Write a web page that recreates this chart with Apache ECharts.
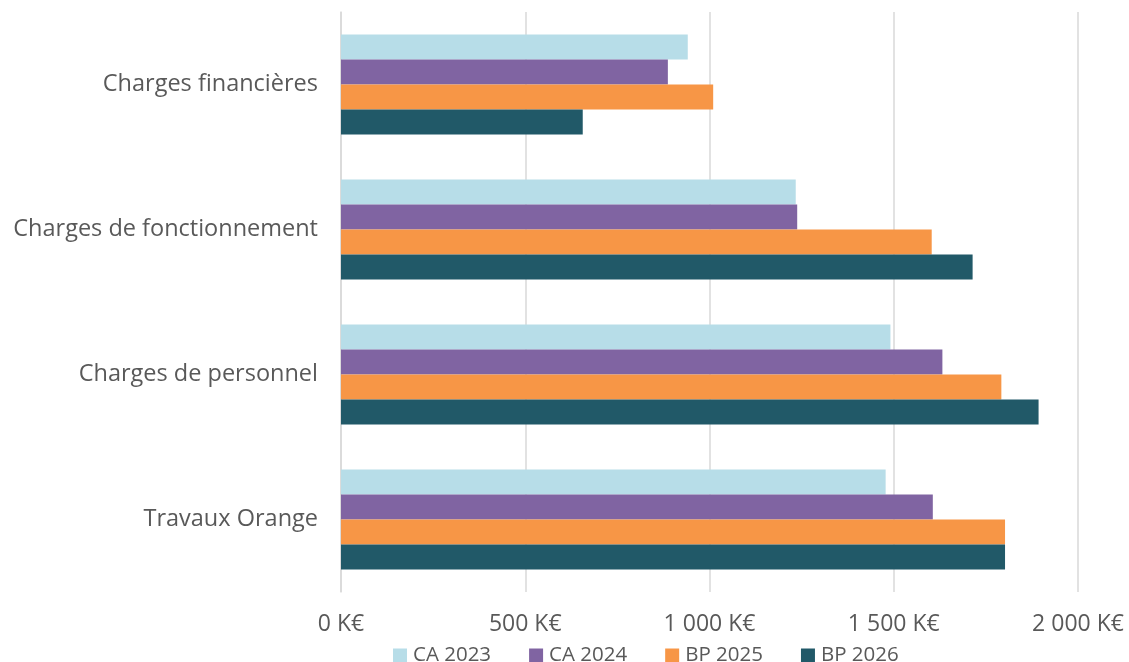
<!DOCTYPE html>
<html>
<head>
<meta charset="utf-8">
<script src="https://cdn.jsdelivr.net/npm/echarts@6/dist/echarts.min.js"></script>
<style>
html,body{margin:0;padding:0;background:#fff;}
#chart{width:1129px;height:662px;}
</style>
</head>
<body>
<div id="chart"></div>
<script>
const categories = ["Charges financières", "Charges de fonctionnement", "Charges de personnel", "Travaux Orange"];
const seriesNames = ["CA 2023", "CA 2024", "BP 2025", "BP 2026"];
const ca2023 = [941, 1234, 1491, 1478];
const ca2024 = [887, 1238, 1632, 1606];
const bp2025 = [1010, 1603, 1792, 1802];
const bp2026 = [656, 1714, 1893, 1802];
const xTicks = [0, 500, 1000, 1500, 2000];
const colors = ["#B7DDE8", "#8064A2", "#F79646", "#215968"];

const seriesData = [ca2023, ca2024, bp2025, bp2026];
const fontFam = "'Open Sans', Lato, sans-serif";

function fmt(v) {
  const s = String(v);
  return s.replace(/\B(?=(\d{3})+(?!\d))/g, " ") + " K€";
}

const chart = echarts.init(document.getElementById('chart'));
chart.setOption({
  animation: false,
  color: colors,
  grid: { left: 341, right: 51, top: 12, bottom: 70, containLabel: false },
  legend: {
    data: seriesNames,
    left: 388,
    top: 640,
    itemWidth: 14,
    itemHeight: 14,
    itemGap: 38,
    icon: 'rect',
    textStyle: { color: '#595959', fontSize: 20.5, fontFamily: fontFam, padding: [0,0,0,1] }
  },
  xAxis: {
    type: 'value',
    min: xTicks[0],
    max: xTicks[xTicks.length - 1],
    interval: 500,
    axisLine: { show: false },
    axisTick: { show: false },
    splitLine: { show: true, lineStyle: { color: '#D9D9D9', width: 1.5 } },
    axisLabel: { color: '#595959', fontSize: 23, fontFamily: fontFam, margin: 21, formatter: fmt }
  },
  yAxis: {
    type: 'category',
    data: categories,
    inverse: true,
    axisLine: { show: true, lineStyle: { color: '#D9D9D9', width: 1.5 } },
    axisTick: { show: false },
    axisLabel: { color: '#595959', fontSize: 23.5, fontFamily: fontFam, margin: 23 }
  },
  series: seriesNames.map((n, i) => ({
    name: n,
    type: 'bar',
    data: seriesData[i],
    barGap: '0%',
    barCategoryGap: '31%',
    itemStyle: { color: colors[i] }
  }))
});
</script>
</body>
</html>
